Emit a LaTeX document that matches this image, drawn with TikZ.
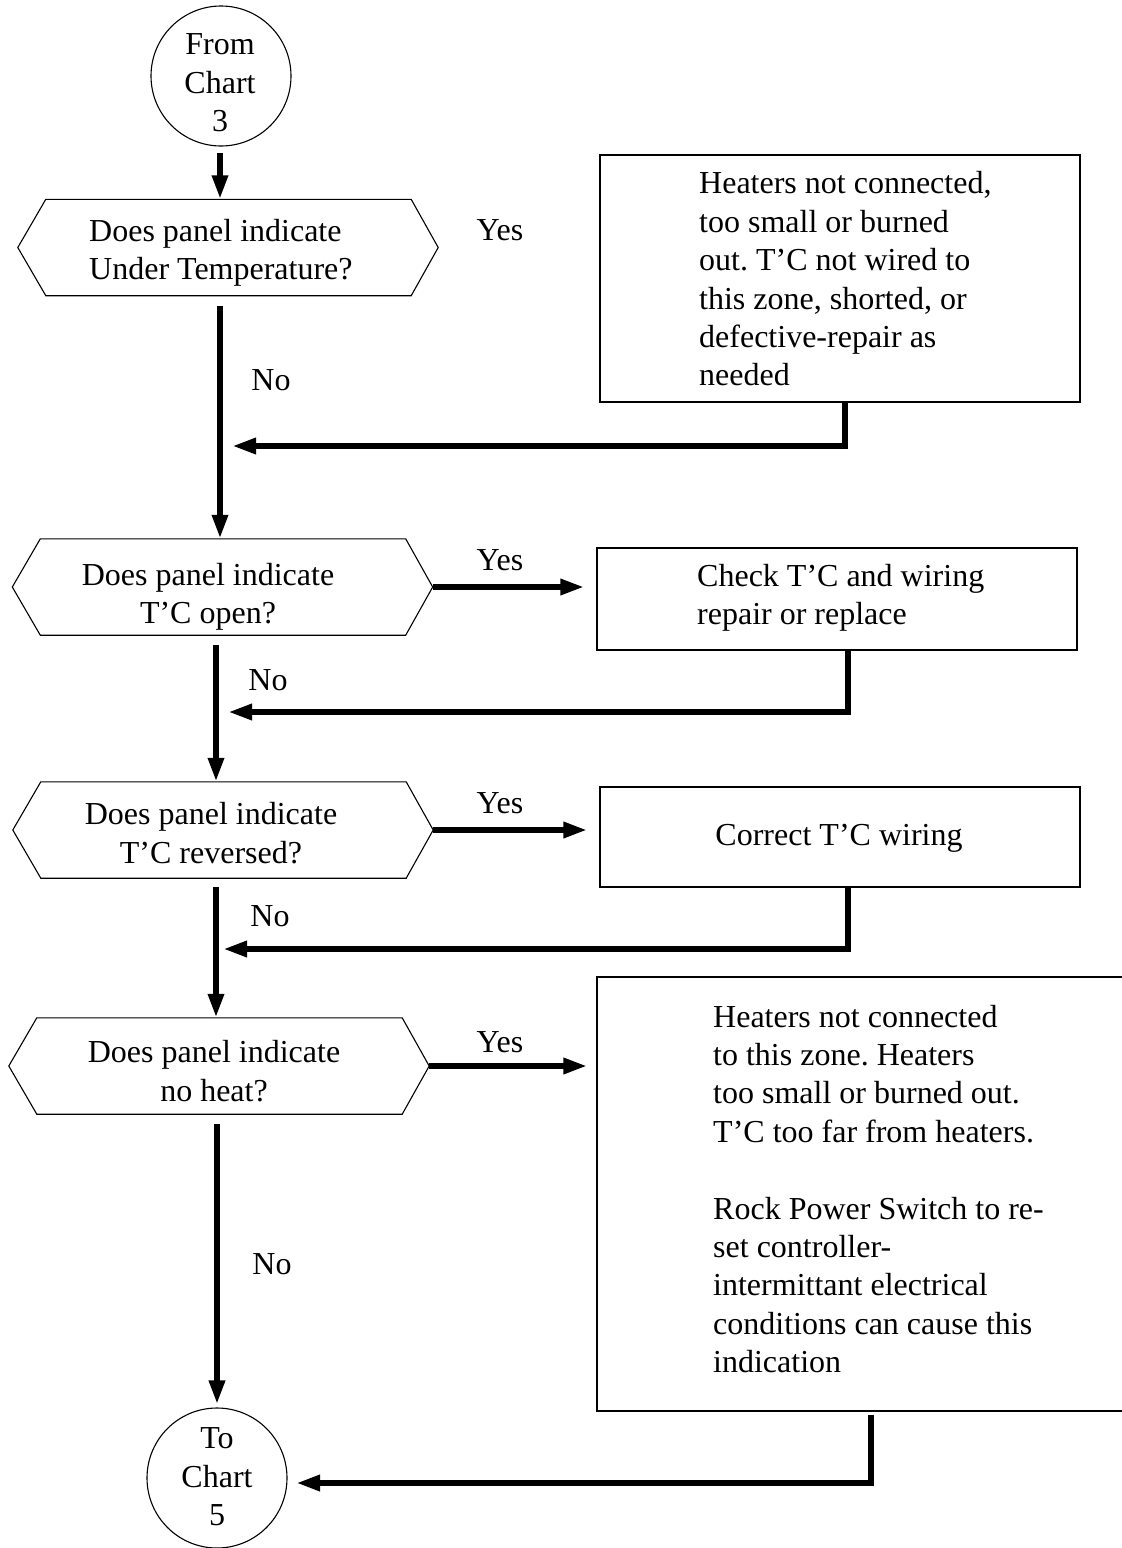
\documentclass[tikz,border=0pt]{standalone}
\usepackage{fontspec}
\setmainfont{Liberation Serif}
\usetikzlibrary{arrows.meta}
\frenchspacing
\newcommand\hexdraw[1]{\draw[hexline] (#1.west) -- ([xshift=28pt]#1.north west) -- ([xshift=-27pt]#1.north east) -- (#1.east) -- ([xshift=-27pt]#1.south east) -- ([xshift=28pt]#1.south west) -- cycle;}
\begin{document}
\begin{tikzpicture}[x=1pt,y=-1pt,
  every node/.style={font=\fontsize{32}{38.4}\selectfont\frenchspacing},
  txt/.style={inner sep=0pt, align=left, anchor=west},
  ctxt/.style={inner sep=0pt, align=center},
  boxstyle/.style={draw, line width=1.2pt, inner sep=0pt},
  hexnode/.style={inner sep=0pt, minimum width=420pt, minimum height=96pt},
  hexline/.style={line width=1.1pt, line join=miter},
  circnode/.style={draw, circle, line width=1.1pt, minimum size=140pt, inner sep=0pt},
  conn/.style={line width=6pt, -{Triangle[length=24pt,width=15pt]}}]
\useasboundingbox (0,0) rectangle (1122,1548);
\clip (0,0) rectangle (1122,1548);

% terminals
\node[circnode] (from) at (221,76) {};
\node[ctxt] (fromt) at (220,83) {From\\Chart\\3};
\node[circnode] (to) at (217,1478) {};
\node[ctxt] (tot) at (217,1477) {To\\Chart\\5};

% decisions
\node[hexnode] (h1) at (228,247.5) {};
\hexdraw{h1}
\node[txt] (h1t) at (89,253) {Does panel indicate\\Under Temperature?};
\node[hexnode] (h2) at (222.5,587) {};
\hexdraw{h2}
\node[ctxt] (h2t) at (208,597) {Does panel indicate\\T’C open?};
\node[hexnode] (h3) at (223,830) {};
\hexdraw{h3}
\node[ctxt] (h3t) at (211,833) {Does panel indicate\\T’C reversed?};
\node[hexnode] (h4) at (219,1066) {};
\hexdraw{h4}
\node[ctxt] (h4t) at (214,1071) {Does panel indicate\\no heat?};

% action boxes
\node[boxstyle, minimum width=480pt, minimum height=247pt] (b1) at (840,278.5) {};
\node[txt] (b1t) at (699,279) {Heaters not connected,\\too small or burned\\out. T’C not wired to\\this zone, shorted, or\\defective-repair as\\needed};
\node[boxstyle, minimum width=480pt, minimum height=102pt] (b2) at (837,599) {};
\node[txt] (b2t) at (697,598) {Check T’C and wiring\\repair or replace};
\node[boxstyle, minimum width=480pt, minimum height=100pt] (b3) at (840,837) {};
\node[ctxt] (b3t) at (839,838) {Correct T’C wiring};
\node[boxstyle, minimum width=545pt, minimum height=434pt] (b4) at (869.5,1194) {};
\node[txt] (b4t) at (713,1189) {Heaters not connected\\to this zone. Heaters\\too small or burned out.\\T’C too far from heaters.\\[38.4pt]Rock Power Switch to re-\\set controller-\\intermittant electrical\\conditions can cause this\\indication};

% labels
\node[ctxt] (y1) at (500,230) {Yes};
\node[ctxt] (y2) at (500,560) {Yes};
\node[ctxt] (y3) at (500,803) {Yes};
\node[ctxt] (y4) at (500,1042) {Yes};
\node[ctxt] (n1) at (271,380) {No};
\node[ctxt] (n2) at (268,680) {No};
\node[ctxt] (n3) at (270,916) {No};
\node[ctxt] (n4) at (272,1264) {No};

% spine coordinates and junctions
\coordinate (s1) at (220,0);
\coordinate (s2) at (216,0);
\coordinate (s4) at (217,0);
\coordinate (j1) at (232,446);
\coordinate (j2) at (228,712);
\coordinate (j3) at (223,949);
\coordinate (j4) at (296,1483);

% main flow
\draw[conn, shorten <=6pt] (from.south -| s1) -- (h1.north -| s1);
\draw[conn, shorten <=10pt] (h1.south -| s1) -- (h2.north -| s1);
\draw[conn, shorten <=10pt] (h2.south -| s2) -- (h3.north -| s2);
\draw[conn, shorten <=9pt] (h3.south -| s2) -- (h4.north -| s2);
\draw[conn, shorten <=10pt, shorten >=3pt] (h4.south -| s4) -- (to.north);

% yes branches
\draw[conn, shorten >=12pt] (h2.east) -- (h2.east -| b2.west);
\draw[conn, shorten >=12pt] (h3.east) -- (h3.east -| b3.west);
\draw[conn, shorten >=9pt] (h4.east) -- (h4.east -| b4.west);

% returns
\draw[conn] ([xshift=5pt]b1.south) |- (j1);
\draw[conn] ([xshift=11pt]b2.south) |- (j2);
\draw[conn] ([xshift=8pt]b3.south) |- (j3);
\draw[conn] ([xshift=1pt,yshift=-3pt]b4.south) |- (j4);
\end{tikzpicture}
\end{document}
